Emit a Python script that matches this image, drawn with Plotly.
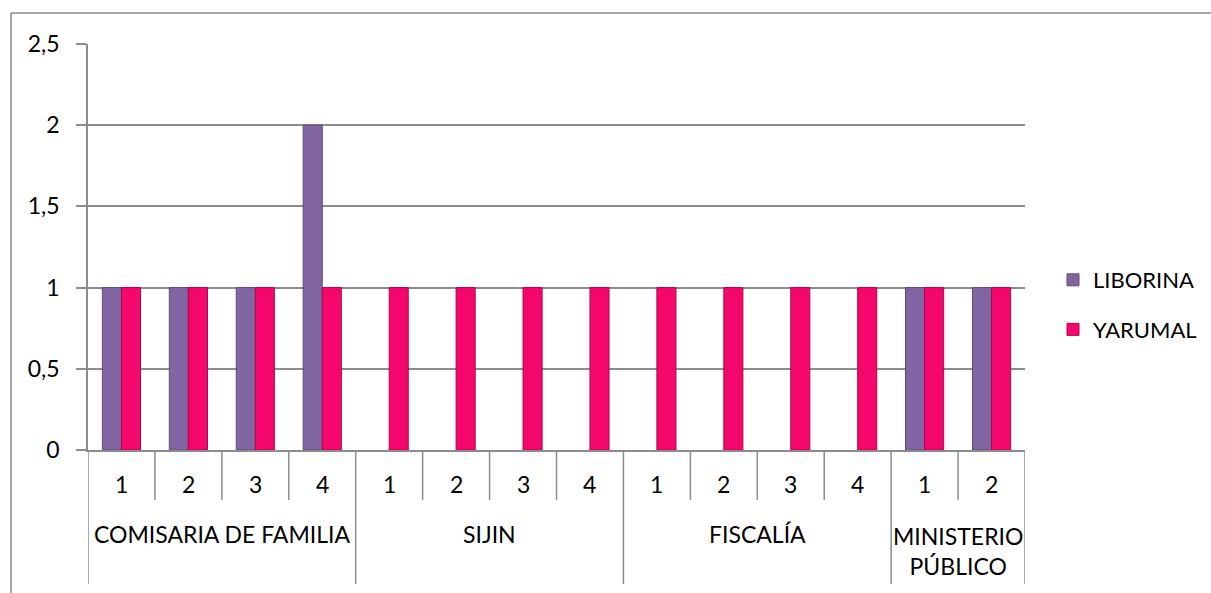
import plotly.graph_objects as go

groups = ["COMISARIA DE FAMILIA", "SIJIN", "FISCALÍA", "MINISTERIO<br>PÚBLICO"]
group_sizes = [4, 4, 4, 2]
subs = ["1", "2", "3", "4", "1", "2", "3", "4", "1", "2", "3", "4", "1", "2"]
liborina = [1, 1, 1, 2, None, None, None, None, None, None, None, None, 1, 1]
yarumal = [1, 1, 1, 1, 1, 1, 1, 1, 1, 1, 1, 1, 1, 1]
y_ticks = [0, 0.5, 1, 1.5, 2, 2.5]

W, H = 1211, 593
L, R, T, B = 88, 1025, 44, 450
FONT = "Lato"
GRID = "#8c8c8c"

def px_x(p):
    return (p - L) / (R - L)

def px_y(p):
    return (B - p) / (B - T)

xs = list(range(len(subs)))

fig = go.Figure()
fig.add_trace(go.Bar(
    x=xs, y=liborina, name="LIBORINA", legendgroup="a",
    marker=dict(color="#8165A2", line=dict(color="#5e4a78", width=1)),
))
fig.add_trace(go.Bar(
    x=xs, y=yarumal, name="YARUMAL", legendgroup="b",
    marker=dict(color="#F5086B", line=dict(color="#b0054c", width=1)),
))

shapes = []
# outer chart border (cropped)
shapes.append(dict(type="line", xref="paper", yref="paper",
                   x0=px_x(11), x1=px_x(1215), y0=px_y(13), y1=px_y(13),
                   line=dict(color="#888888", width=1.5)))
shapes.append(dict(type="line", xref="paper", yref="paper",
                   x0=px_x(11), x1=px_x(11), y0=px_y(13), y1=px_y(600),
                   line=dict(color="#888888", width=1.5)))

# category dividers
bounds = [0]
for s in group_sizes:
    bounds.append(bounds[-1] + s)
for k in range(len(subs) + 1):
    long = k in bounds
    shapes.append(dict(type="line", xref="x", yref="paper",
                       x0=k - 0.5, x1=k - 0.5, y0=0,
                       y1=px_y(584) if long else px_y(500),
                       line=dict(color=GRID, width=1.5)))

annotations = []
for i, s in enumerate(subs):
    annotations.append(dict(x=i, y=px_y(484), xref="x", yref="paper",
                            text=s, showarrow=False, yanchor="middle",
                            font=dict(family=FONT, size=23, color="black")))
for g, (a, b) in zip(groups, zip(bounds[:-1], bounds[1:])):
    center = (a + b - 1) / 2
    if "<br>" in g:
        annotations.append(dict(x=center, y=px_y(520), xref="x", yref="paper",
                                text=g, showarrow=False, yanchor="top",
                                font=dict(family=FONT, size=23, color="black")))
    else:
        annotations.append(dict(x=center, y=px_y(534), xref="x", yref="paper",
                                text=g, showarrow=False, yanchor="middle",
                                font=dict(family=FONT, size=23, color="black")))

fig.update_layout(
    width=W, height=H,
    margin=dict(l=L, r=W - R, t=T, b=H - B, pad=0, autoexpand=False),
    paper_bgcolor="white", plot_bgcolor="white",
    separators=",.",
    barmode="group", bargap=0.43, bargroupgap=0,
    font=dict(family=FONT, size=22, color="black"),
    showlegend=True,
    legend=dict(x=px_x(1053), y=px_y(259), xanchor="left", yanchor="top",
                tracegroupgap=18, font=dict(family=FONT, size=22, color="black"),
                bgcolor="rgba(0,0,0,0)"),
    shapes=shapes, annotations=annotations,
)
fig.update_xaxes(range=[-0.5, len(subs) - 0.5], showticklabels=False, showgrid=False,
                 zeroline=False, showline=True, linecolor=GRID, linewidth=1.5, ticks="")
fig.update_yaxes(range=[0, 2.5], tickvals=y_ticks, showgrid=True, gridcolor=GRID, gridwidth=1.5,
                 zeroline=False, showline=True, linecolor=GRID, linewidth=1.5,
                 ticks="outside", ticklen=10, tickcolor=GRID, tickwidth=1.5,
                 ticklabelstandoff=12, tickfont=dict(family=FONT, size=23, color="black"))

fig.write_html("out.html")
